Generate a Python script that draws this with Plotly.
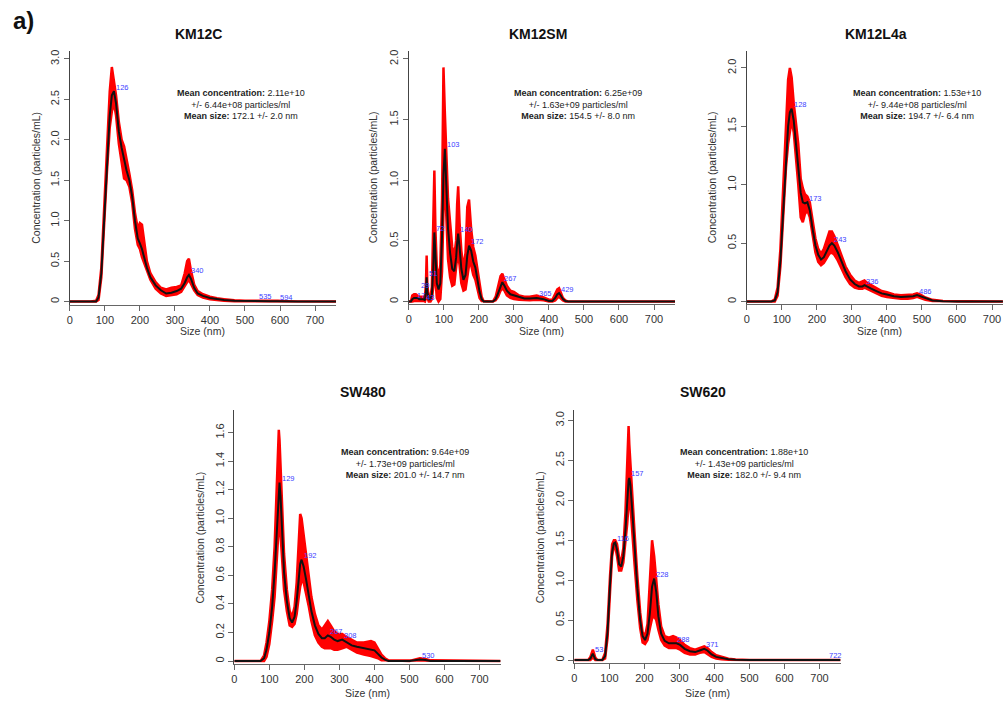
import plotly.graph_objects as go

W, H = 1003, 702

# ---------------- DATA ----------------
TITLES = ["KM12C", "KM12SM", "KM12L4a", "SW480", "SW620"]

INFO = [
    ("2.11e+10", "6.44e+08", "172.1 +/- 2.0"),
    ("6.25e+09", "1.63e+09", "154.5 +/- 8.0"),
    ("1.53e+10", "9.44e+08", "194.7 +/- 6.4"),
    ("9.64e+09", "1.73e+09", "201.0 +/- 14.7"),
    ("1.88e+10", "1.43e+09", "182.0 +/- 9.4"),
]

# KM12C
km12c_size = [0, 60, 75, 82, 90, 98, 106, 114, 120, 126, 132, 140, 148, 155, 162, 170, 178, 186, 194, 200,
              206, 212, 220, 230, 245, 260, 275, 290, 305, 318, 328, 335, 340, 346, 355, 365, 380, 400, 420, 440,
              470, 500, 520, 535, 550, 570, 594, 620, 650, 760]
km12c_mean = [0, 0, 0.0, 0.05, 0.35, 1.0, 1.7, 2.3, 2.55, 2.6, 2.45, 2.1, 1.9, 1.75, 1.62, 1.5, 1.3, 1.0, 0.78, 0.72,
              0.65, 0.55, 0.42, 0.3, 0.2, 0.14, 0.1, 0.11, 0.13, 0.16, 0.23, 0.3, 0.33, 0.28, 0.17, 0.1, 0.07, 0.045, 0.03, 0.02,
              0.01, 0.006, 0.006, 0.01, 0.006, 0.004, 0.005, 0.002, 0, 0]
km12c_lo = [0, 0, 0, 0.02, 0.3, 0.93, 1.6, 2.15, 2.35, 2.45, 2.3, 1.95, 1.75, 1.52, 1.5, 1.42, 1.22, 0.9, 0.7, 0.65,
            0.55, 0.46, 0.38, 0.27, 0.16, 0.1, 0.07, 0.08, 0.09, 0.12, 0.19, 0.24, 0.27, 0.23, 0.14, 0.08, 0.05, 0.03, 0.02, 0.01,
            0.005, 0.002, 0.002, 0.005, 0.002, 0.001, 0.001, 0, 0, 0]
km12c_hi = [0, 0, 0.01, 0.08, 0.42, 1.1, 1.85, 2.6, 2.9, 2.75, 2.55, 2.22, 2.0, 1.92, 1.78, 1.58, 1.38, 1.1, 0.9, 0.97,
            0.95, 0.75, 0.5, 0.35, 0.24, 0.17, 0.15, 0.17, 0.18, 0.2, 0.35, 0.5, 0.53, 0.38, 0.21, 0.13, 0.09, 0.06, 0.04, 0.03,
            0.015, 0.01, 0.01, 0.015, 0.01, 0.008, 0.009, 0.004, 0, 0]
km12c_peaks = [126, 340, 535, 594]
km12c_peak_y = [2.6, 0.33, 0.01, 0.005]

# KM12SM
km12sm_size = [0, 6, 10, 15, 20, 25, 30, 36, 42, 46, 49, 51, 53, 57, 62, 66, 70, 73, 76, 80,
               85, 90, 95, 99, 103, 107, 112, 118, 124, 130, 135, 138, 141, 145, 150, 156, 162, 167, 172, 178,
               184, 190, 196, 202, 208, 214, 240, 248, 255, 262, 267, 273, 280, 290, 300, 315, 330, 345, 365, 385,
               400, 410, 418, 424, 429, 434, 440, 447, 455, 760]
km12sm_mean = [0, 0, 0.02, 0.03, 0.03, 0.03, 0.02, 0.02, 0.02, 0.01, 0.08, 0.2, 0.08, 0.02, 0.02, 0.06, 0.28, 0.57, 0.35, 0.15,
               0.1, 0.15, 0.55, 1.05, 1.26, 0.95, 0.6, 0.4, 0.27, 0.25, 0.36, 0.48, 0.56, 0.45, 0.27, 0.18, 0.22, 0.38, 0.46, 0.42,
               0.33, 0.28, 0.18, 0.08, 0.02, 0, 0, 0.02, 0.07, 0.13, 0.16, 0.13, 0.09, 0.06, 0.05, 0.035, 0.025, 0.025, 0.03, 0.02,
               0.005, 0.005, 0.03, 0.06, 0.07, 0.05, 0.02, 0.005, 0, 0]
km12sm_lo = [0, 0, 0, 0.005, 0.01, 0.01, 0.005, 0.005, 0.005, 0, 0.03, 0.07, 0.03, 0, 0, 0.02, 0.12, 0.3, 0.15, 0.03,
             0, 0.02, 0.25, 0.75, 1.0, 0.75, 0.35, 0.2, 0.13, 0.14, 0.25, 0.36, 0.38, 0.3, 0.15, 0.09, 0.1, 0.2, 0.3, 0.3,
             0.22, 0.18, 0.1, 0.03, 0.005, 0, 0, 0.01, 0.04, 0.09, 0.11, 0.09, 0.05, 0.03, 0.02, 0.015, 0.01, 0.01, 0.015, 0.01,
             0, 0, 0.01, 0.03, 0.04, 0.03, 0.01, 0, 0, 0]
km12sm_hi = [0, 0, 0.05, 0.06, 0.06, 0.05, 0.04, 0.04, 0.04, 0.03, 0.15, 0.38, 0.13, 0.04, 0.04, 0.12, 0.6, 1.08, 0.6, 0.28,
             0.2, 0.3, 0.85, 1.93, 1.55, 1.15, 0.85, 0.65, 0.45, 0.38, 0.5, 0.8, 0.95, 0.65, 0.42, 0.28, 0.4, 0.78, 0.84, 0.6,
             0.45, 0.38, 0.27, 0.14, 0.04, 0, 0, 0.04, 0.12, 0.21, 0.23, 0.18, 0.13, 0.09, 0.08, 0.05, 0.04, 0.04, 0.05, 0.035,
             0.015, 0.015, 0.06, 0.1, 0.11, 0.08, 0.03, 0.01, 0, 0]
km12sm_peaks = [17, 29, 43, 51, 72, 103, 140, 172, 267, 365, 429]
km12sm_peak_y = [0.03, 0.03, 0.02, 0.2, 0.57, 1.26, 0.56, 0.46, 0.16, 0.03, 0.07]
km12sm_peak_dy = [2, 12, 2, 4, 4, 4, 4, 4, 4, 4, 4]

# KM12L4a
km12l4a_size = [0, 70, 80, 88, 96, 104, 112, 118, 123, 128, 134, 140, 147, 154, 160, 166, 173, 180, 188, 196,
                204, 212, 220, 228, 236, 243, 250, 260, 270, 282, 295, 308, 320, 330, 336, 344, 355, 370, 385, 400,
                420, 440, 460, 475, 486, 496, 510, 530, 560, 600, 760]
km12l4a_mean = [0, 0, 0.01, 0.08, 0.35, 0.8, 1.25, 1.5, 1.62, 1.65, 1.55, 1.38, 1.15, 0.93, 0.85, 0.84, 0.85, 0.78, 0.62, 0.48,
                0.4, 0.36, 0.38, 0.43, 0.48, 0.5, 0.48, 0.42, 0.34, 0.26, 0.19, 0.15, 0.13, 0.13, 0.14, 0.13, 0.11, 0.09, 0.07, 0.06,
                0.045, 0.04, 0.04, 0.045, 0.055, 0.045, 0.025, 0.01, 0.003, 0, 0]
km12l4a_lo = [0, 0, 0, 0.05, 0.3, 0.72, 1.15, 1.35, 1.45, 1.55, 1.45, 1.28, 1.0, 0.72, 0.68, 0.75, 0.78, 0.72, 0.56, 0.42,
              0.34, 0.31, 0.33, 0.37, 0.41, 0.42, 0.4, 0.35, 0.29, 0.21, 0.15, 0.12, 0.11, 0.11, 0.12, 0.11, 0.09, 0.07, 0.05, 0.04,
              0.03, 0.025, 0.025, 0.03, 0.04, 0.03, 0.015, 0.005, 0, 0, 0]
km12l4a_hi = [0, 0, 0.02, 0.12, 0.45, 0.95, 1.55, 1.9, 2.0, 1.92, 1.7, 1.55, 1.35, 1.05, 0.97, 0.92, 0.9, 0.85, 0.68, 0.54,
              0.45, 0.41, 0.45, 0.53, 0.6, 0.6, 0.56, 0.48, 0.39, 0.3, 0.23, 0.18, 0.16, 0.17, 0.18, 0.16, 0.14, 0.12, 0.09, 0.08,
              0.06, 0.055, 0.055, 0.06, 0.07, 0.06, 0.035, 0.015, 0.005, 0, 0]
km12l4a_peaks = [128, 173, 243, 336, 486]
km12l4a_peak_y = [1.65, 0.85, 0.5, 0.14, 0.055]

# SW480
sw480_size = [0, 75, 85, 92, 100, 108, 115, 120, 124, 127, 129, 132, 136, 142, 150, 158, 165, 172, 178, 184,
              188, 192, 198, 205, 212, 220, 230, 240, 250, 258, 267, 275, 285, 295, 308, 320, 335, 350, 370, 390,
              400, 410, 420, 430, 440, 500, 515, 530, 545, 560, 760]
sw480_mean = [0, 0, 0.02, 0.08, 0.2, 0.38, 0.62, 0.85, 1.05, 1.2, 1.25, 1.15, 0.9, 0.62, 0.42, 0.3, 0.27, 0.31, 0.42, 0.58,
              0.68, 0.71, 0.66, 0.57, 0.46, 0.35, 0.25, 0.19, 0.16, 0.16, 0.18, 0.17, 0.15, 0.14, 0.15, 0.13, 0.11, 0.1, 0.09, 0.085,
              0.075, 0.05, 0.025, 0.01, 0, 0, 0.005, 0.01, 0.008, 0, 0]
sw480_lo = [0, 0, 0, 0.03, 0.12, 0.28, 0.45, 0.62, 0.8, 0.95, 1.0, 0.95, 0.75, 0.5, 0.35, 0.25, 0.24, 0.26, 0.33, 0.45,
            0.52, 0.56, 0.55, 0.48, 0.39, 0.28, 0.18, 0.13, 0.1, 0.09, 0.09, 0.09, 0.08, 0.08, 0.09, 0.1, 0.08, 0.06, 0.045, 0.035,
            0.03, 0.02, 0.005, 0, 0, 0, 0, 0.003, 0.002, 0, 0]
sw480_hi = [0, 0, 0.04, 0.13, 0.28, 0.5, 0.8, 1.1, 1.45, 1.62, 1.55, 1.35, 1.05, 0.75, 0.5, 0.35, 0.31, 0.38, 0.55, 0.85,
            1.03, 1.0, 0.88, 0.72, 0.58, 0.45, 0.33, 0.25, 0.22, 0.25, 0.28, 0.25, 0.21, 0.19, 0.19, 0.17, 0.15, 0.13, 0.13, 0.14,
            0.13, 0.09, 0.045, 0.02, 0.005, 0, 0.01, 0.02, 0.015, 0.005, 0]
sw480_peaks = [129, 192, 267, 308, 530]
sw480_peak_y = [1.25, 0.71, 0.18, 0.15, 0.01]

# SW620
sw620_size = [0, 40, 46, 50, 53, 56, 60, 66, 80, 88, 95, 102, 108, 113, 117, 122, 128, 134, 140, 146,
              151, 155, 157, 160, 165, 172, 180, 188, 195, 202, 209, 216, 222, 228, 234, 240, 248, 258, 270, 282,
              292, 302, 315, 330, 345, 358, 371, 380, 392, 405, 420, 440, 460, 500, 722, 760]
sw620_mean = [0, 0, 0.02, 0.06, 0.08, 0.05, 0.01, 0, 0, 0.05, 0.35, 0.95, 1.35, 1.46, 1.47, 1.38, 1.2, 1.17, 1.3, 1.62,
              2.0, 2.25, 2.28, 2.2, 1.9, 1.4, 0.9, 0.5, 0.3, 0.25, 0.33, 0.6, 0.92, 1.02, 0.85, 0.55, 0.33, 0.24, 0.21, 0.21,
              0.21, 0.19, 0.14, 0.11, 0.1, 0.12, 0.14, 0.12, 0.07, 0.04, 0.025, 0.01, 0.003, 0, 0.001, 0]
sw620_lo = [0, 0, 0, 0.02, 0.03, 0.02, 0, 0, 0, 0.02, 0.28, 0.85, 1.3, 1.42, 1.42, 1.3, 1.12, 1.12, 1.22, 1.45,
            1.7, 1.95, 2.0, 1.95, 1.65, 1.2, 0.75, 0.4, 0.22, 0.2, 0.25, 0.4, 0.52, 0.55, 0.5, 0.38, 0.25, 0.18, 0.15, 0.15,
            0.15, 0.13, 0.09, 0.07, 0.07, 0.09, 0.1, 0.08, 0.04, 0.02, 0.01, 0.003, 0, 0, 0, 0]
sw620_hi = [0, 0, 0.04, 0.1, 0.13, 0.09, 0.03, 0, 0, 0.09, 0.45, 1.05, 1.45, 1.5, 1.5, 1.45, 1.28, 1.24, 1.4, 1.85,
            2.6, 2.93, 2.7, 2.45, 2.1, 1.6, 1.05, 0.6, 0.35, 0.3, 0.45, 0.95, 1.5, 1.3, 1.0, 0.7, 0.42, 0.3, 0.28, 0.3,
            0.28, 0.25, 0.19, 0.15, 0.13, 0.15, 0.17, 0.15, 0.1, 0.06, 0.04, 0.018, 0.006, 0, 0.002, 0]
sw620_peaks = [53, 116, 157, 228, 288, 371, 722]
sw620_peak_y = [0.08, 1.47, 2.28, 1.02, 0.21, 0.14, 0.001]

SERIES = [
    (km12c_size, km12c_mean, km12c_lo, km12c_hi, km12c_peaks, km12c_peak_y),
    (km12sm_size, km12sm_mean, km12sm_lo, km12sm_hi, km12sm_peaks, km12sm_peak_y),
    (km12l4a_size, km12l4a_mean, km12l4a_lo, km12l4a_hi, km12l4a_peaks, km12l4a_peak_y),
    (sw480_size, sw480_mean, sw480_lo, sw480_hi, sw480_peaks, sw480_peak_y),
    (sw620_size, sw620_mean, sw620_lo, sw620_hi, sw620_peaks, sw620_peak_y),
]
PEAK_DY = [None, km12sm_peak_dy, None, None, None]

X_TICKS = [0, 100, 200, 300, 400, 500, 600, 700]
Y_TICKS = [
    [0, 0.5, 1.0, 1.5, 2.0, 2.5, 3.0],
    [0, 0.5, 1.0, 1.5, 2.0],
    [0, 0.5, 1.0, 1.5, 2.0],
    [0, 0.2, 0.4, 0.6, 0.8, 1.0, 1.2, 1.4, 1.6],
    [0, 0.5, 1.0, 1.5, 2.0, 2.5, 3.0],
]

# ---------------- LAYOUT (pixel geometry) ----------------
PXNM = 0.3514
# (x0 px of size 0, y px of value 0, px per unit, top px, x range max)
GEOM = [
    (67, 301, 81.0, 50, 760),
    (407, 301, 121.5, 50, 760),
    (746, 301, 117.0, 50, 731),
    (232, 661, 143.0, 410, 760),
    (573, 660, 80.0, 410, 760),
]
YLAB_X = [33, 372, 712, 198, 538]
XLAB_Y = [330, 330, 330, 693, 693]
INFO_POS = [(239, 92), (577, 92), (917, 92), (403, 452), (743, 452)]
TITLE_Y = [33, 33, 33, 392, 392]

FONT = "Liberation Sans, Arial, sans-serif"

def px(x):
    return x / W

def py(y):
    return 1 - y / H

fig = go.Figure()
annotations = []
layout_axes = {}

for i, (xs, mean, lo, hi, pk, pky) in enumerate(SERIES):
    assert len(xs) == len(mean) == len(lo) == len(hi), (i, len(xs), len(mean), len(lo), len(hi))
    x0, y0, ppu, ytop, xmax = GEOM[i]
    n = "" if i == 0 else str(i + 1)
    xa, ya = "x" + n, "y" + n
    xr = [0, xmax]
    xdom = [px(x0), px(min(W, x0 + xmax * PXNM))]
    ymin = -0.02 * (2.0 if ppu < 100 else 1.0)
    ybot_px = y0 - ymin * ppu
    ymax = (y0 - ytop) / ppu
    ydom = [py(ybot_px), py(ytop)]

    # band
    fig.add_trace(go.Scatter(
        x=list(xs) + list(xs)[::-1], y=list(hi) + list(lo)[::-1],
        fill="toself", fillcolor="#ff0000", line=dict(color="#ff0000", width=2.5),
        mode="lines", xaxis=xa, yaxis=ya, hoverinfo="skip", showlegend=False))
    # mean line
    fig.add_trace(go.Scatter(
        x=xs, y=mean, mode="lines", line=dict(color="#111111", width=2),
        xaxis=xa, yaxis=ya, showlegend=False))

    layout_axes["xaxis" + n] = dict(
        domain=xdom, range=xr, anchor=ya, showgrid=False, zeroline=False,
        showline=True, linecolor="#666666", linewidth=1,
        ticks="outside", ticklen=5, tickcolor="#666666",
        tickvals=X_TICKS, ticktext=[str(v) for v in X_TICKS],
        tickfont=dict(family=FONT, size=11, color="#333333"))
    layout_axes["yaxis" + n] = dict(
        domain=ydom, range=[ymin, ymax], anchor=xa, showgrid=False, zeroline=False,
        showline=True, linecolor="#444444", linewidth=1,
        ticks="outside", ticklen=5, tickcolor="#666666",
        tickvals=Y_TICKS[i], ticktext=["0" if v == 0 else f"{v:.1f}" for v in Y_TICKS[i]],
        tickangle=-90, tickfont=dict(family=FONT, size=11, color="#333333"))

    # title
    annotations.append(dict(
        x=px(x0 + 760 * PXNM / 2 - 4), y=py(TITLE_Y[i]),
        xref="paper", yref="paper", text="<b>" + TITLES[i] + "</b>",
        showarrow=False, xanchor="center", yanchor="middle",
        font=dict(family=FONT, size=14, color="#111111")))
    # y label
    annotations.append(dict(
        x=px(YLAB_X[i]), y=(ydom[0] + ydom[1]) / 2, xref="paper", yref="paper",
        text="Concentration (particles/mL)", textangle=-90, showarrow=False,
        xanchor="center", yanchor="middle",
        font=dict(family=FONT, size=10.5, color="#333333")))
    # x label
    annotations.append(dict(
        x=px(x0 + 760 * PXNM / 2), y=py(XLAB_Y[i]), xref="paper", yref="paper",
        text="Size (nm)", showarrow=False, xanchor="center", yanchor="middle",
        font=dict(family=FONT, size=10.5, color="#333333")))
    # info text
    conc, err, size = INFO[i]
    ix, iy = INFO_POS[i]
    annotations.append(dict(
        x=px(ix), y=py(iy - 7), xref="paper", yref="paper",
        text=f"<b>Mean concentration:</b> {conc}<br>+/- {err} particles/ml<br><b>Mean size:</b> {size} nm",
        showarrow=False, xanchor="center", yanchor="top", align="center",
        font=dict(family=FONT, size=9, color="#222222")))
    # peak labels
    dys = PEAK_DY[i] or [4] * len(pk)
    for p, pv, dy in zip(pk, pky, dys):
        annotations.append(dict(
            x=p, y=pv, xref=xa, yref=ya, text=str(p), showarrow=False,
            xanchor="left", yanchor="middle", yshift=dy,
            font=dict(family=FONT, size=7.5, color="#4040ff")))

annotations.append(dict(
    x=px(8), y=py(20), xref="paper", yref="paper", text="<b>a)</b>",
    showarrow=False, xanchor="left", yanchor="middle",
    font=dict(family="Liberation Sans, Arial, sans-serif", size=24, color="#111111")))

fig.update_layout(
    width=W, height=H, margin=dict(l=0, r=0, t=0, b=0),
    paper_bgcolor="white", plot_bgcolor="white",
    annotations=annotations, showlegend=False, **layout_axes)

fig.write_html("out.html")
